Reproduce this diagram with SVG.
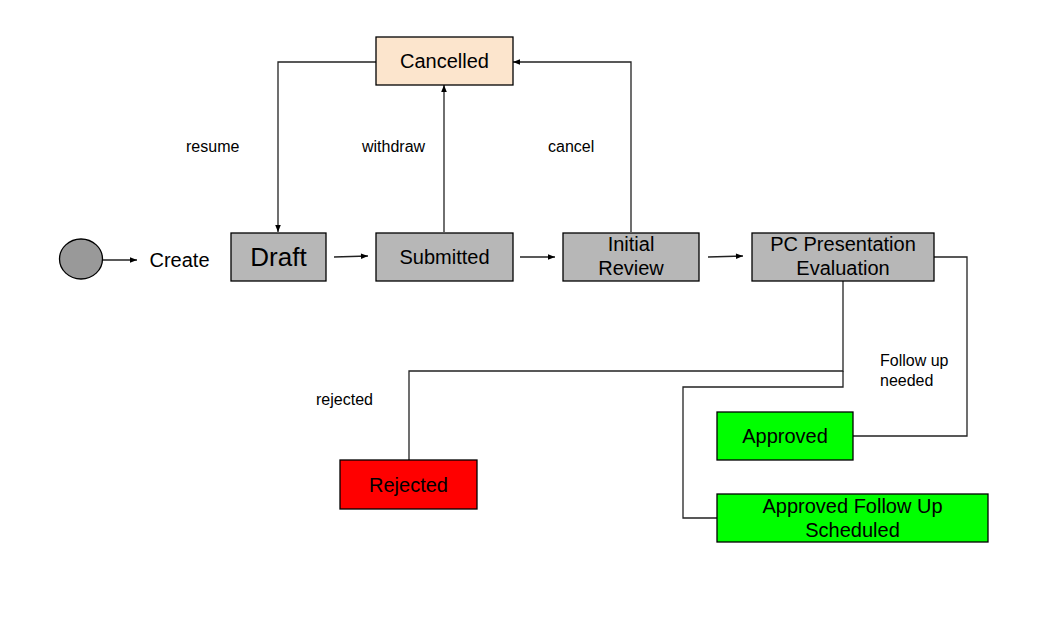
<svg xmlns="http://www.w3.org/2000/svg" width="1062" height="621" viewBox="0 0 1062 621">
<defs>
<marker id="arr" viewBox="0 0 10 10" refX="10" refY="5" markerWidth="8" markerHeight="7" markerUnits="userSpaceOnUse" orient="auto">
<path d="M0,1 L10,5 L0,9 z" fill="#000"/>
</marker>
<style>
.box{stroke:#000;stroke-width:1.3}
.gray{fill:#b7b7b7}
.t{font-family:"Liberation Sans",Arial,sans-serif;font-size:20px;fill:#000;text-anchor:middle}
.lbl{font-family:"Liberation Sans",Arial,sans-serif;font-size:16px;fill:#000}
.c{fill:none;stroke:#222;stroke-width:1.3}
</style>
</defs>
<rect width="1062" height="621" fill="#fff"/>
<g id="connectors">
<path class="c" d="M103,260 L137,260" marker-end="url(#arr)"/>
<path class="c" d="M334,257 L368,256" marker-end="url(#arr)"/>
<path class="c" d="M520,257 L555,257" marker-end="url(#arr)"/>
<path class="c" d="M708,257 L743,256" marker-end="url(#arr)"/>
<path class="c" d="M376,62 L278,62 L278,232" marker-end="url(#arr)"/>
<path class="c" d="M444,232 L444,85" marker-end="url(#arr)"/>
<path class="c" d="M631,232 L631,62 L513,62" marker-end="url(#arr)"/>
<path class="c" d="M843,281 L843,371 L409,371 L409,460"/>
<path class="c" d="M843,371 L843,387 L683,387 L683,518 L717,518"/>
<path class="c" d="M934,257 L967,257 L967,436 L853,436"/>
<text class="lbl" x="186" y="152">resume</text>
<text class="lbl" x="362" y="152">withdraw</text>
<text class="lbl" x="548" y="152">cancel</text>
<text class="lbl" x="316" y="405">rejected</text>
<text class="lbl" x="880" y="366">Follow up</text>
<text class="lbl" x="880" y="386">needed</text>
</g>
<g id="start">
<ellipse cx="81" cy="259" rx="21.5" ry="20" fill="#999" stroke="#000" stroke-width="1.3"/>
</g>
<g id="create">
<text class="t" x="179.5" y="267">Create</text>
</g>
<g id="draft">
<rect class="box gray" x="231" y="233" width="95" height="48"/>
<text class="t" x="278.5" y="266" style="font-size:26px">Draft</text>
</g>
<g id="submitted">
<rect class="box gray" x="376" y="233" width="137" height="48"/>
<text class="t" x="444.5" y="264">Submitted</text>
</g>
<g id="initial-review">
<rect class="box gray" x="563" y="233" width="136" height="48"/>
<text class="t" x="631" y="251">Initial</text>
<text class="t" x="631" y="275">Review</text>
</g>
<g id="pc-evaluation">
<rect class="box gray" x="752" y="233" width="182" height="48"/>
<text class="t" x="843" y="251">PC Presentation</text>
<text class="t" x="843" y="275">Evaluation</text>
</g>
<g id="cancelled">
<rect class="box" fill="#fce5cd" x="376" y="37" width="137" height="48"/>
<text class="t" x="444.5" y="68">Cancelled</text>
</g>
<g id="rejected">
<rect class="box" fill="#ff0000" x="340" y="460" width="137" height="49"/>
<text class="t" x="408.5" y="492">Rejected</text>
</g>
<g id="approved">
<rect class="box" fill="#00ff00" x="717" y="412" width="136" height="48"/>
<text class="t" x="785" y="443">Approved</text>
</g>
<g id="approved-follow-up">
<rect class="box" fill="#00ff00" x="717" y="494" width="271" height="48"/>
<text class="t" x="852.5" y="513">Approved Follow Up</text>
<text class="t" x="852.5" y="537">Scheduled</text>
</g>
</svg>
